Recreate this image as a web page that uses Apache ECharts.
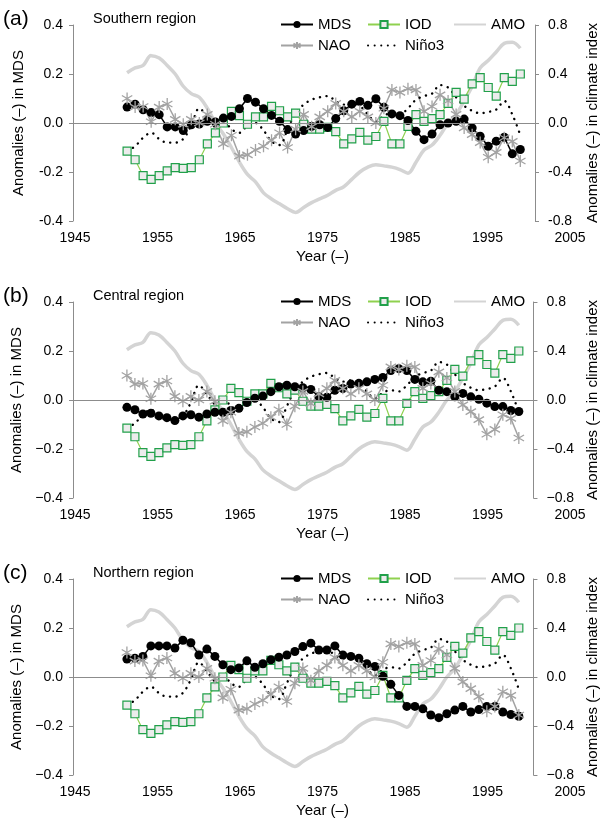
<!DOCTYPE html>
<html>
<head>
<meta charset="utf-8">
<script src="https://cdn.jsdelivr.net/npm/echarts@6/dist/echarts.min.js"></script>
<style>
  html, body { margin: 0; padding: 0; background: #fff; }
  #chart { width: 608px; height: 821px; }
</style>
</head>
<body>
<div id="chart"></div>
<script>
// Annual values, plotted at mid-year
const years = [1951,1952,1953,1954,1955,1956,1957,1958,1959,1960,
               1961,1962,1963,1964,1965,1966,1967,1968,1969,1970,
               1971,1972,1973,1974,1975,1976,1977,1978,1979,1980,
               1981,1982,1983,1984,1985,1986,1987,1988,1989,1990,
               1991,1992,1993,1994,1995,1996,1997,1998,1999,2000];
const yearTicks = ['1945','1955','1965','1975','1985','1995','2005'];

// MDS anomalies per region (left axis)
const mdsSouthern = [0.065,0.077,0.054,0.043,0.034,-0.016,-0.016,-0.031,-0.007,-0.004,
                     0.007,0.004,0.020,0.027,0.058,0.100,0.085,0.058,0.031,0.007,
                     -0.027,-0.045,-0.031,-0.014,-0.007,-0.018,0.018,0.050,0.077,0.088,
                     0.072,0.099,0.064,0.037,0.030,0.010,-0.034,-0.068,-0.045,-0.007,
                     0.000,0.007,0.016,-0.020,-0.054,-0.095,-0.074,-0.058,-0.126,-0.108];
const mdsCentral = [-0.030,-0.040,-0.057,-0.054,-0.065,-0.072,-0.084,-0.065,-0.060,-0.070,
                    -0.057,-0.050,-0.050,-0.043,-0.034,-0.010,0.007,0.016,0.034,0.054,
                    0.060,0.054,0.050,0.043,0.014,0.011,0.040,0.047,0.065,0.068,
                    0.074,0.084,0.092,0.120,0.128,0.120,0.084,0.074,0.077,0.040,
                    0.034,0.013,0.027,0.013,0.003,-0.013,-0.027,-0.027,-0.043,-0.047];
const mdsNorthern = [0.073,0.077,0.084,0.127,0.127,0.127,0.118,0.150,0.140,0.090,
                     0.114,0.084,0.050,0.030,0.037,0.066,0.040,0.054,0.070,0.081,
                     0.090,0.104,0.124,0.138,0.110,0.110,0.127,0.090,0.084,0.077,
                     0.054,0.043,0.003,-0.030,-0.075,-0.120,-0.120,-0.130,-0.155,-0.166,
                     -0.150,-0.135,-0.120,-0.143,-0.133,-0.120,-0.120,-0.143,-0.153,-0.160];

// Climate indices (right axis)
const iod = [-0.23,-0.30,-0.43,-0.46,-0.43,-0.39,-0.365,-0.37,-0.365,-0.30,
             -0.17,-0.08,0.00,0.095,0.06,-0.01,0.05,0.05,0.135,0.10,
             0.05,0.08,-0.01,-0.05,-0.05,-0.035,-0.07,-0.17,-0.13,-0.076,
             -0.14,-0.11,0.014,-0.17,-0.17,-0.027,0.068,0.014,0.035,0.068,
             0.16,0.25,0.195,0.32,0.37,0.29,0.22,0.37,0.34,0.40];
const amo = [0.41,0.45,0.47,0.55,0.53,0.47,0.40,0.30,0.24,0.21,
             0.12,0.00,-0.09,-0.20,-0.32,-0.42,-0.48,-0.57,-0.62,-0.66,
             -0.70,-0.73,-0.69,-0.65,-0.62,-0.59,-0.55,-0.52,-0.46,-0.40,
             -0.36,-0.34,-0.35,-0.36,-0.38,-0.41,-0.32,-0.22,-0.18,-0.10,
             0.00,0.07,0.18,0.30,0.45,0.51,0.58,0.65,0.66,0.61];
const nao = [0.20,0.13,0.135,0.01,0.13,0.155,0.03,-0.01,0.03,0.00,
             0.07,-0.01,-0.17,-0.10,-0.27,-0.26,-0.22,-0.19,-0.14,-0.08,
             -0.20,-0.05,0.07,-0.03,0.05,0.095,0.16,0.095,0.05,0.095,
             0.05,0.00,0.12,0.27,0.25,0.28,0.27,0.095,0.135,0.23,
             0.18,0.07,-0.04,-0.095,-0.16,-0.28,-0.24,-0.12,-0.15,-0.31];
const nino3 = [-0.23,-0.19,-0.12,-0.08,-0.13,-0.16,-0.16,-0.13,-0.02,0.12,
               0.05,-0.03,0.02,-0.05,-0.08,-0.02,0.00,-0.06,-0.15,-0.18,
               -0.05,0.08,0.15,0.19,0.21,0.22,0.18,0.15,0.16,0.14,
               0.07,0.01,0.06,0.08,0.07,0.12,0.19,0.22,0.24,0.31,
               0.29,0.21,0.14,0.10,0.08,0.09,0.11,0.18,0.07,-0.10];

const panels = [
  { tag: '(a)', region: 'Southern region', mds: mdsSouthern, minus: '-' },
  { tag: '(b)', region: 'Central region',  mds: mdsCentral,  minus: '\u2212' },
  { tag: '(c)', region: 'Northern region', mds: mdsNorthern, minus: '\u2212' }
];

const FONT = '"Liberation Sans", Arial, Helvetica, sans-serif';
const TOPS = [25, 302, 579];
const PLOT_H = 196;
const AXIS_GREY = '#8c8c8c';

const asterisk = 'path://M6,0L6,12M0.8,3L11.2,9M0.8,9L11.2,3';

const toPoints = arr => years.map((y, k) => [y + 0.5, arr[k]]);
const fmt = minus => v => {
  const s = Math.abs(v) < 1e-9 ? '0.0' : Math.abs(v).toFixed(1);
  return v < -1e-9 ? minus + s : s;
};

const option = {
  animation: false,
  backgroundColor: '#fff',
  textStyle: { fontFamily: FONT, color: '#000' },
  title: [], grid: [], xAxis: [], yAxis: [], legend: [], series: []
};

panels.forEach((p, i) => {
  const T = TOPS[i];
  const gData = option.grid.length;
  option.grid.push({ left: 73, right: 60, top: T, height: PLOT_H });
  option.grid.push({ left: 75, right: 38, top: T, height: PLOT_H });
  const gTicks = gData + 1;

  const xData = option.xAxis.length;
  option.xAxis.push({
    type: 'value', gridIndex: gData, min: 1944.76, max: 2002.33, show: false
  });
  option.xAxis.push({
    type: 'category', gridIndex: gTicks, data: yearTicks, boundaryGap: false,
    axisLine: { show: false }, axisTick: { show: false }, splitLine: { show: false },
    axisLabel: { fontSize: 14, color: '#000', margin: 10, fontFamily: FONT },
    name: 'Year (\u2013)', nameLocation: 'middle', nameGap: 28,
    nameTextStyle: { fontSize: 15, color: '#000', fontFamily: FONT }
  });

  const yLeft = option.yAxis.length;
  option.yAxis.push({
    type: 'value', gridIndex: gData, position: 'left',
    min: -0.4, max: 0.4, interval: 0.2,
    axisLine: { show: true, lineStyle: { color: AXIS_GREY, width: 1 } },
    axisTick: { show: true, inside: false, length: 4, lineStyle: { color: AXIS_GREY } },
    splitLine: { show: false },
    axisLabel: { fontSize: 14, color: '#000', margin: 10, formatter: fmt(p.minus), fontFamily: FONT },
    name: 'Anomalies (\u2013) in MDS', nameLocation: 'middle', nameRotate: 90, nameGap: 47,
    nameTextStyle: { fontSize: 15, color: '#000', fontFamily: FONT }
  });
  option.yAxis.push({
    type: 'value', gridIndex: gData, position: 'right',
    min: -0.8, max: 0.8, interval: 0.4,
    axisLine: { show: true, lineStyle: { color: AXIS_GREY, width: 1 } },
    axisTick: { show: true, inside: false, length: 4, lineStyle: { color: AXIS_GREY } },
    splitLine: { show: false },
    axisLabel: { fontSize: 14, color: '#000', margin: 13, formatter: fmt(p.minus), fontFamily: FONT },
    name: 'Anomalies (\u2013) in climate index', nameLocation: 'middle', nameRotate: 90, nameGap: 50,
    nameTextStyle: { fontSize: 15, color: '#000', fontFamily: FONT }
  });
  option.yAxis.push({ type: 'value', gridIndex: gTicks, show: false, min: 0, max: 1 });
  const yRight = yLeft + 1;

  option.series.push(
    {
      name: 'AMO', type: 'line', xAxisIndex: xData, yAxisIndex: yRight,
      data: toPoints(amo), smooth: 0.35, showSymbol: false, symbol: 'none',
      lineStyle: { color: '#d4d4d4', width: 3.5 }, itemStyle: { color: '#d4d4d4' },
      markLine: {
        silent: true, symbol: ['none', 'none'], label: { show: false },
        lineStyle: { color: '#8c8c8c', width: 1, type: 'solid' },
        data: [{ yAxis: 0 }]
      }
    },
    {
      name: 'IOD', type: 'line', xAxisIndex: xData, yAxisIndex: yRight,
      data: toPoints(iod), symbol: 'rect', symbolSize: 8,
      lineStyle: { color: '#8fd14f', width: 1.2 },
      itemStyle: { color: '#ececec', borderColor: '#21a04a', borderWidth: 1.2 }
    },
    {
      name: 'MDS', type: 'line', xAxisIndex: xData, yAxisIndex: yLeft,
      data: toPoints(p.mds), symbol: 'circle', symbolSize: 9,
      lineStyle: { color: '#000', width: 1.5 },
      itemStyle: { color: '#000', borderWidth: 0 }
    },
    {
      name: 'NAO', type: 'line', xAxisIndex: xData, yAxisIndex: yRight,
      data: toPoints(nao), symbol: asterisk, symbolSize: 12, symbolKeepAspect: true,
      lineStyle: { color: '#a3a3a3', width: 1.5 },
      itemStyle: { color: '#a3a3a3', borderColor: '#a3a3a3', borderWidth: 1.3 }
    },
    {
      name: 'Ni\u00f1o3', type: 'line', xAxisIndex: xData, yAxisIndex: yRight,
      data: toPoints(nino3), smooth: 0.35, showSymbol: false, symbol: 'none',
      lineStyle: { color: '#000', width: 2.4, type: [0.1, 6.5], cap: 'round' },
      itemStyle: { color: '#000' }
    }
  );

  option.title.push(
    { text: p.tag, left: 3, top: T - 16, padding: 0,
      textStyle: { fontSize: 21, fontWeight: 'normal', color: '#000', fontFamily: FONT } },
    { text: p.region, left: 93, top: T - 14, padding: 0,
      textStyle: { fontSize: 14.5, fontWeight: 'normal', color: '#000', fontFamily: FONT } }
  );

  // Legend: two rows, three fixed columns; plain lines carry no marker
  const legendCells = [
    ['MDS', 280, T - 8, true], ['IOD', 367, T - 8, true], ['AMO', 453, T - 8, false],
    ['NAO', 280, T + 13, true], ['Ni\u00f1o3', 367, T + 13, false]
  ];
  legendCells.forEach(([name, left, top, marker]) => {
    const lg = {
      data: [name], left: left, top: top, padding: 0, itemGap: 0,
      itemWidth: 32, itemHeight: 9, selectedMode: false,
      textStyle: { fontSize: 15, color: '#000', fontFamily: FONT }
    };
    if (!marker) lg.itemStyle = { opacity: 0 };
    option.legend.push(lg);
  });
});

const chart = echarts.init(document.getElementById('chart'), null, { renderer: 'canvas' });
chart.setOption(option);
</script>
</body>
</html>
